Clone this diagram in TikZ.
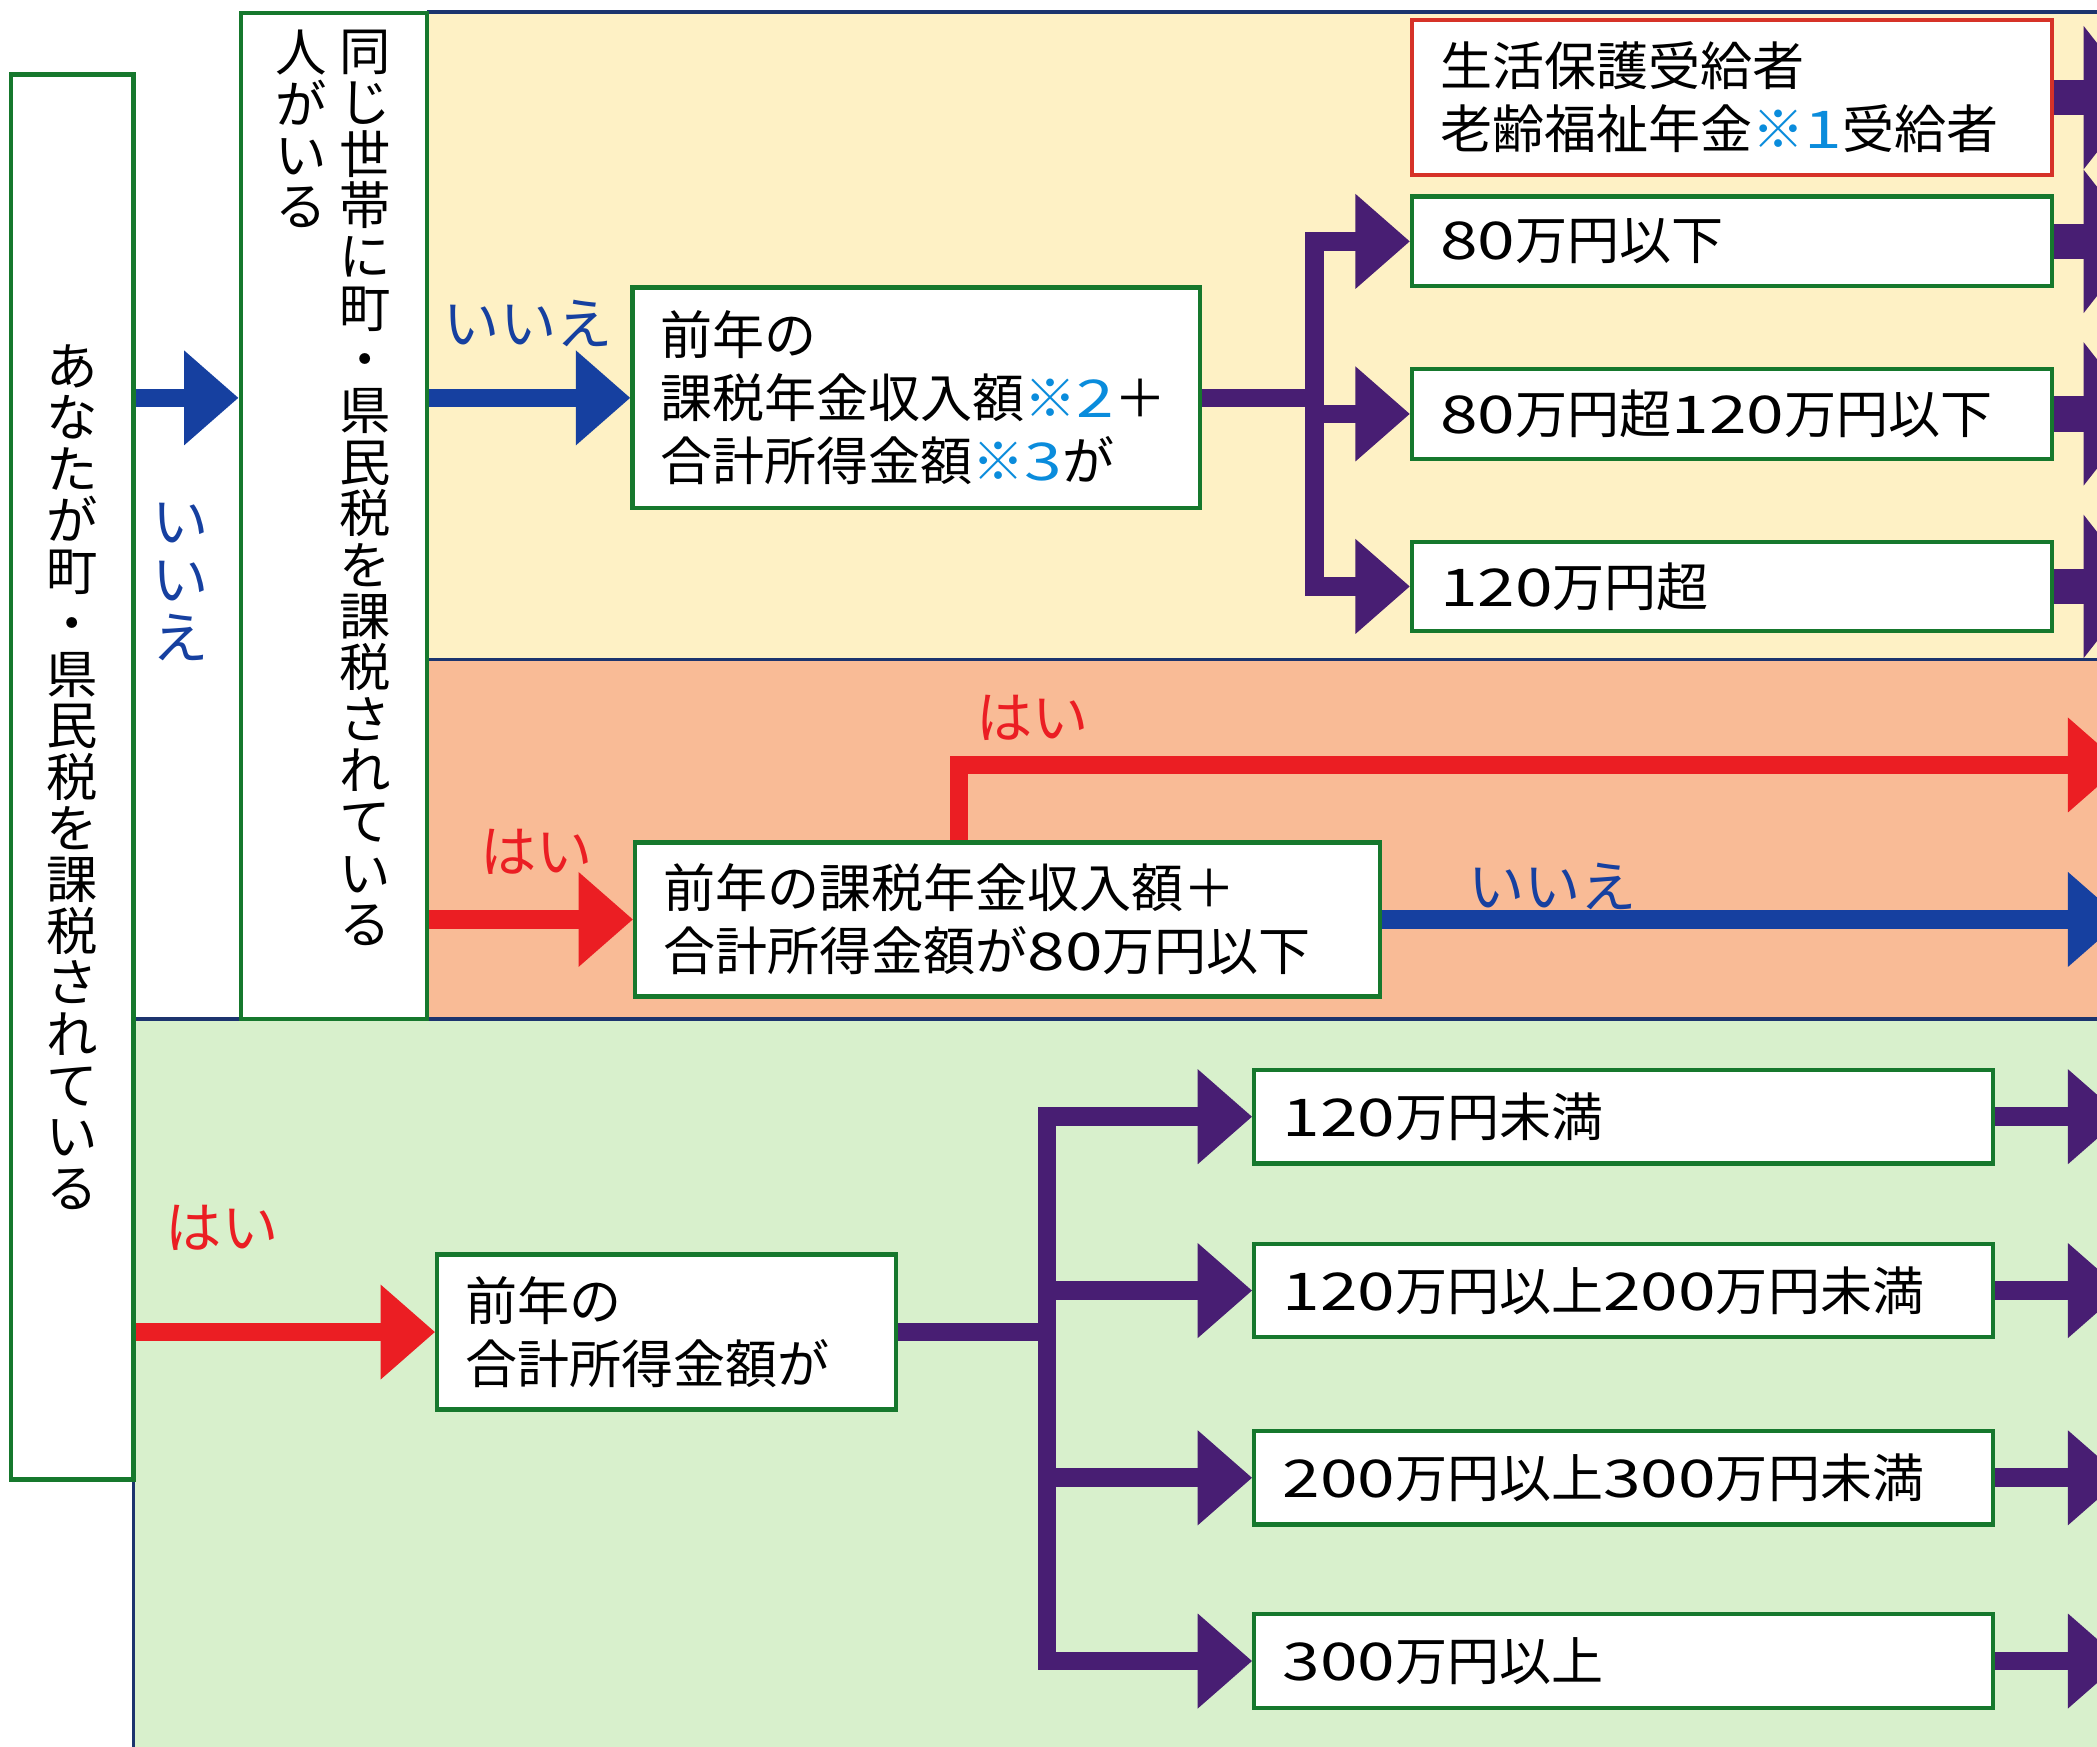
\documentclass[tikz,border=0pt]{standalone}
\usepackage{fontspec}
\setmainfont{Noto Sans CJK JP}
\newfontfamily\digitfont[FakeStretch=1.3]{Noto Sans CJK JP}
\usetikzlibrary{arrows.meta}

\definecolor{bgyellow}{RGB}{254,241,197}
\definecolor{bgorange}{RGB}{249,187,150}
\definecolor{bggreen}{RGB}{216,240,204}
\definecolor{edgegreen}{RGB}{22,120,45}
\definecolor{edgered}{RGB}{214,50,40}
\definecolor{sepnavy}{RGB}{28,52,110}
\definecolor{yesred}{RGB}{235,30,35}
\definecolor{noblue}{RGB}{22,64,160}
\definecolor{arrowpurple}{RGB}{72,30,115}
\definecolor{kome}{RGB}{10,140,220}

\newcommand\dg[1]{{\digitfont #1}}
\newcommand\kome[1]{\textcolor{kome}{※\dg{#1}}}
\newcommand\boxfont{\fontsize{14.8pt}{17.9pt}\selectfont}
\newcommand\tatefont{\fontsize{14.6pt}{14.6pt}\selectfont\lineskiplimit=-10pt}
\newcommand\labfont{\fontsize{16pt}{16.5pt}\selectfont\lineskiplimit=-10pt}

\tikzset{
	box/.style={draw=edgegreen, line width=1.2pt, fill=white, inner xsep=8pt, inner ysep=0pt, align=left, font=\boxfont},
	tate/.style={inner sep=0pt, align=center, font=\tatefont},
	yeslab/.style={text=yesred, font=\labfont, inner sep=0pt},
	nolab/.style={text=noblue, font=\labfont, inner sep=0pt},
	pipe/.style={line width=5.3pt},
	flow/.style={pipe, -{Triangle[length=15.5pt,width=26pt]}},
	bigflow/.style={line width=10pt, -{Triangle[length=16pt,width=40pt]}},
	sep/.style={sepnavy, line width=1pt}
}

\begin{document}
\begin{tikzpicture}[x=0.013374cm, y=-0.013374cm]
	\useasboundingbox (0,0) rectangle (1568,1306);
	\clip (0,0) rectangle (1568,1306);

	% bands
	\fill[bgyellow] (319,9) rectangle (1568,493);
	\fill[bgorange] (319,493) rectangle (1568,762);
	\fill[bggreen] (100,762) rectangle (1568,1306);
	\draw[sep] (319,9) -- (1568,9);
	\draw[sep] (319,493) -- (1568,493);
	\draw[sep] (100,762) -- (1568,762) (100,762) -- (100,1306);

	% questions
	\node[box, tate, minimum width=34.8pt, minimum height=399.5pt] (you) at (54,581)
		{あ\\な\\た\\が\\町\\・\\県\\民\\税\\を\\課\\税\\さ\\れ\\て\\い\\る};
	\node[box, minimum width=52.9pt, minimum height=286.1pt] (with) at (249.5,386) {};
	\node[tate, anchor=north] (withR) at (273,22)
		{同\\じ\\世\\帯\\に\\町\\・\\県\\民\\税\\を\\課\\税\\さ\\れ\\て\\い\\る};
	\node[tate, anchor=north] (withL) at (225,22) {人\\が\\い\\る};

	\node[box, text width=145.3pt, minimum height=62.8pt] (pens) at (685,297.5)
		{前年の\\課税年金収入額\kome{2}＋\\合計所得金額\kome{3}が};
	\node[box, text width=195.9pt, minimum height=43.8pt] (pens80) at (753.5,687.5)
		{前年の課税年金収入額＋\\合計所得金額が\dg{80}万円以下};
	\node[box, text width=114.5pt, minimum height=44.1pt] (inc) at (498.5,996)
		{前年の\\合計所得金額が};

	% results
	\node[box, draw=edgered, text width=165.9pt, minimum height=44.1pt] (welfare) at (1295,73)
		{生活保護受給者\\老齢福祉年金\kome{1}受給者};
	\node[box, text width=165.9pt, minimum height=25.5pt] (low) at (1295,180.5) {\dg{80}万円以下};
	\node[box, text width=165.9pt, minimum height=25.5pt] (mid) at (1295,309.5) {\dg{80}万円超\dg{120}万円以下};
	\node[box, text width=165.9pt, minimum height=25.5pt] (high) at (1295,438.5) {\dg{120}万円超};

	\node[box, text width=194pt, minimum height=26.6pt] (g1) at (1214,835) {\dg{120}万円未満};
	\node[box, text width=194pt, minimum height=26.6pt] (g2) at (1214,965) {\dg{120}万円以上\dg{200}万円未満};
	\node[box, text width=194pt, minimum height=26.6pt] (g3) at (1214,1105) {\dg{200}万円以上\dg{300}万円未満};
	\node[box, text width=194pt, minimum height=26.6pt] (g4) at (1214,1242) {\dg{300}万円以上};

	% labels
	\node[nolab, align=center] (noYou) at (135,435) {い\\い\\え};
	\node[nolab] (noWith) at (395,242) {いいえ};
	\node[yeslab] (yesWith) at (401,637) {はい};
	\node[yeslab] (yesLow) at (772,537) {はい};
	\node[nolab] (noLow) at (1161,663) {いいえ};
	\node[yeslab] (yesYou) at (166,918) {はい};

	\coordinate (jY) at (983,297.5);
	\coordinate (jG) at (783,996);
	\coordinate (turn) at (717,572);
	\coordinate (edge) at (1587,0);
	\coordinate (edgeY) at (1600,0);

	% arrows
	\draw[flow, noblue] (you.east |- pens.west) -- (with.west |- pens.west);
	\draw[flow, noblue] (with.east |- pens.west) -- (pens.west);
	\draw[pipe, arrowpurple] (pens.east) -- (jY);
	\foreach \b in {low,mid,high}
		\draw[flow, arrowpurple] (jY) |- (\b.west);
	\foreach \b in {welfare,low,mid,high}
		\draw[bigflow, arrowpurple] (\b.east) -- (\b.east -| edgeY);

	\draw[flow, yesred] (with.east |- pens80.west) -- (pens80.west);
	\draw[flow, yesred] (pens80.north -| turn) -- (turn) -- (turn -| edge);
	\draw[flow, noblue] (pens80.east) -- (pens80.east -| edge);

	\draw[flow, yesred] (you.east |- inc.west) -- (inc.west);
	\draw[pipe, arrowpurple] (inc.east) -- (jG);
	\foreach \b in {g1,g2,g3,g4}
		\draw[flow, arrowpurple] (jG) |- (\b.west);
	\foreach \b in {g1,g2,g3,g4}
		\draw[flow, arrowpurple] (\b.east) -- (\b.east -| edge);
\end{tikzpicture}
\end{document}
